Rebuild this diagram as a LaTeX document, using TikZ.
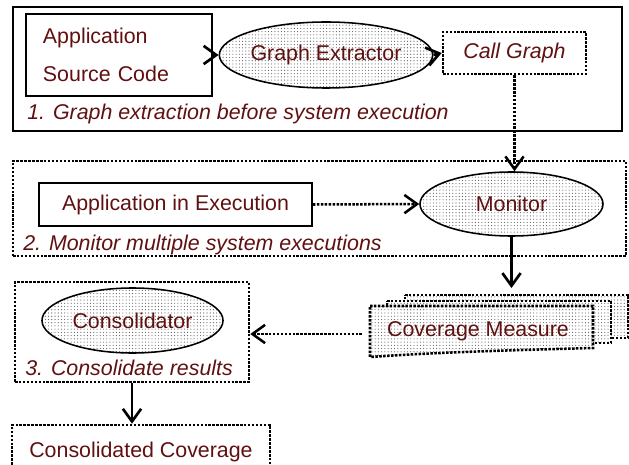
\documentclass[tikz,border=0pt]{standalone}
\usepackage{fontspec}
\setmainfont{Liberation Sans}
\usepackage{xcolor}
\usepackage{tikz}
\usetikzlibrary{arrows.meta,shapes.geometric,patterns.meta,fit}

\definecolor{labelred}{RGB}{96,16,16}

\tikzdeclarepattern{
    name=finedots,
    type=uncolored,
    bounding box={(-.5pt,-.5pt) and (.5pt,.5pt)},
    tile size={(2.3pt,2.3pt)},
    code={\fill (0pt,0pt) circle (.4pt);}
}

\begin{document}
\begin{tikzpicture}[
    x=0.025cm, y=-0.025cm,
    every node/.style={font=\fontsize{15.2}{18}\selectfont, text=labelred, inner sep=0pt},
    solidbox/.style={draw, line width=1.2pt},
    dotbox/.style={draw, line width=1.8pt, densely dotted},
    dotfill/.style={preaction={fill=white}, pattern=finedots, pattern color=black!65},
    blob/.style={ellipse, draw, line width=1.1pt, dotfill},
    stagelabel/.style={anchor=base west, font=\fontsize{15.2}{18}\selectfont\itshape},
    flow/.style={-{Straight Barb[length=9pt,width=13pt]}, line width=1.9pt},
    dotflow/.style={-{Straight Barb[length=9pt,width=13pt]}, line width=1.8pt, densely dotted}
]
\useasboundingbox (0,0) rectangle (629,465);

\node[solidbox, line width=1.6pt, fit={(13,7) (622,131)}] (stage1) {};
\node[solidbox, minimum width=4.65cm, minimum height=2.05cm, text width=3.8cm, align=left,
      font=\fontsize{15.2}{27}\selectfont] (source) at (119,55) {Application\\Source Code};
\node[blob, minimum width=4.525cm, minimum height=1.65cm] (extractor) at (326,55) {Graph Extractor};
\node[dotbox, minimum width=3.575cm, minimum height=1.05cm,
      font=\fontsize{15.2}{18}\selectfont\itshape] (callgraph) at (514.5,53) {Call Graph};
\node[stagelabel] (label1) at (27,120) {1. Graph extraction before system execution};

\node[dotbox, fit={(13,161) (626,256)}] (stage2) {};
\node[solidbox, minimum width=6.825cm, minimum height=1.075cm] (running) at (175.5,204.5) {Application in Execution};
\node[blob, minimum width=4.575cm, minimum height=1.6cm] (monitor) at (511.5,204) {Monitor};
\node[stagelabel] (label2) at (23,250) {2. Monitor multiple system executions};

\path[dotbox, dotfill] (405,295) -- (628,295) -- (628,338) -- (405,338) -- cycle;
\path[dotbox, dotfill] (387,301) -- (611,301) -- (611,343) -- (387,343) -- cycle;
\path[dotbox, dotfill] (370,306) -- (593,306) -- (593,348)
    .. controls (520,350) and (440,352) .. (370,357) -- cycle;
\node (coverage) at (478,331) {Coverage Measure};
\coordinate (covtop) at (511.5,288);
\coordinate (covleft) at (362,334);

\node[dotbox, fit={(15,282) (249,382)}] (stage3) {};
\node[blob, minimum width=4.525cm, minimum height=1.625cm] (consolidator) at (132.5,320.5) {Consolidator};
\node[stagelabel] (label3) at (25,375) {3. Consolidate results};
\node[dotbox, minimum width=6.45cm, minimum height=1.325cm] (result) at (141,451.5) {Consolidated Coverage};

\draw[flow] (source.east) -- (extractor.west);
\draw[flow] (extractor.east) -- (callgraph.west);
\draw[dotflow] (callgraph.south) -- (callgraph.south |- monitor.north);
\draw[dotflow] (running.east) -- (monitor.west);
\draw[flow] (monitor.south) -- (covtop);
\draw[dotflow] (covleft) -- (covleft -| stage3.east);
\draw[flow] (stage3.south) -- (stage3.south |- result.north);
\end{tikzpicture}
\end{document}
